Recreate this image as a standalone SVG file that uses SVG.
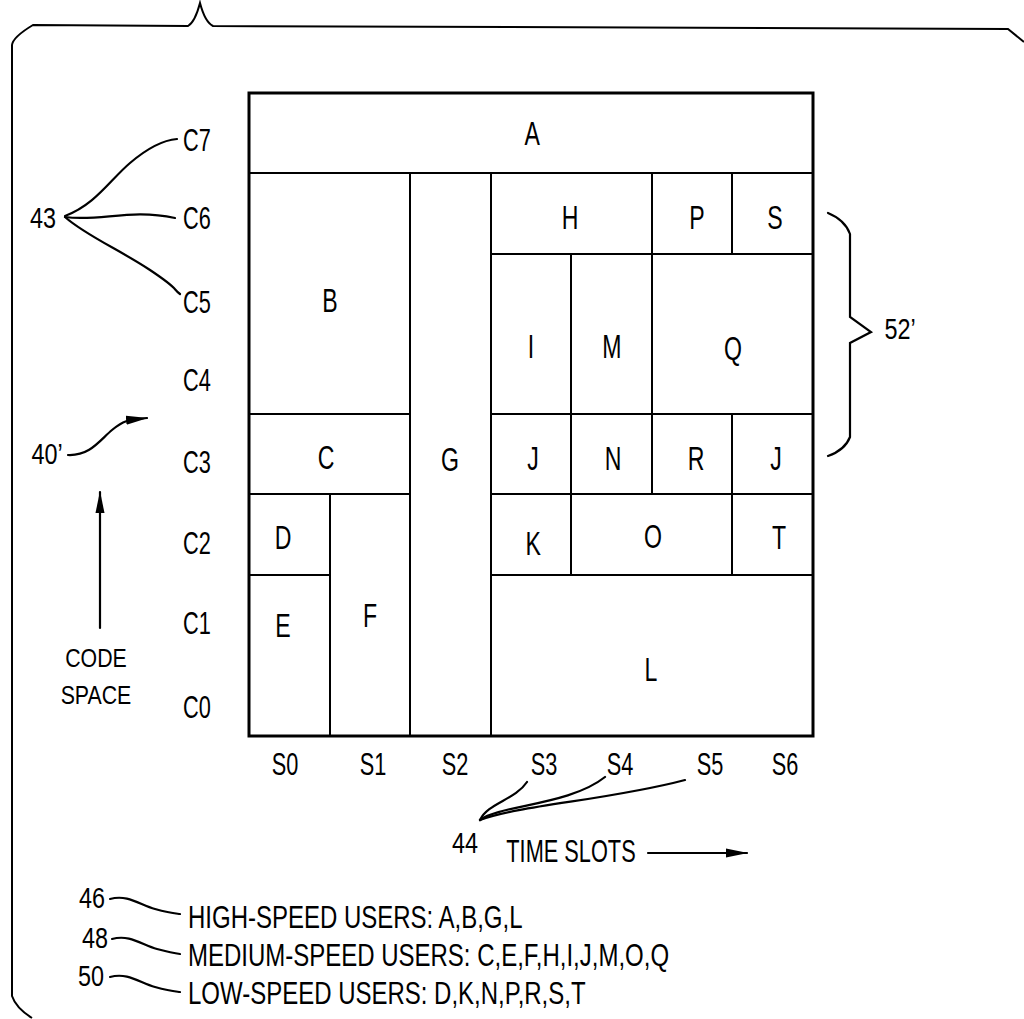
<svg xmlns="http://www.w3.org/2000/svg" width="1024" height="1019" viewBox="0 0 1024 1019">
<style>
  text { font-family: "Liberation Sans", Arial, sans-serif; fill: #000; transform-box: fill-box; transform-origin: center; }
  .cell text { font-size: 34px; text-anchor: middle; transform: scaleX(0.68); }
  .cell rect { fill: #fff; stroke: #000; stroke-width: 2; }
  .outer { fill: none; stroke: #000; stroke-width: 3; }
  .ax { font-size: 32px; text-anchor: middle; transform: scaleX(0.68); }
  .lab { font-size: 30px; text-anchor: middle; transform: scaleX(0.78); }
  .leg { font-size: 32px; text-anchor: start; transform-origin: left center; transform: scaleX(0.75); }
  .small { font-size: 26px; text-anchor: middle; transform: scaleX(0.82); }
  .ln { fill: none; stroke: #000; stroke-width: 2.2; stroke-linecap: round; }
  .frame { fill: none; stroke: #000; stroke-width: 2; }
</style>
<defs>
  <marker id="ah" viewBox="0 0 22 10" refX="21" refY="5" markerWidth="22" markerHeight="10" markerUnits="userSpaceOnUse" orient="auto">
    <path d="M0,0.5 L22,5 L0,9.5 Z" fill="#000"/>
  </marker>
</defs>
<rect width="1024" height="1019" fill="#fff"/>
<path class="frame" d="M32,1018 Q16,1008 12,996 L12,45 Q13,37 33,25 L188,26 Q195,22 200,3 Q205,22 213,26 L1008,29 L1024,42"/>

<g id="cells" class="cell">
  <g id="cell-A"><rect x="249" y="93" width="564" height="80"/><text x="532" y="145">A</text></g>
  <g id="cell-B"><rect x="249" y="173" width="161" height="241"/><text x="330" y="312">B</text></g>
  <g id="cell-C"><rect x="249" y="414" width="161" height="80"/><text x="326" y="469">C</text></g>
  <g id="cell-D"><rect x="249" y="494" width="81" height="81"/><text x="283" y="549">D</text></g>
  <g id="cell-E"><rect x="249" y="575" width="81" height="161"/><text x="283" y="637">E</text></g>
  <g id="cell-F"><rect x="330" y="494" width="80" height="242"/><text x="370" y="627">F</text></g>
  <g id="cell-G"><rect x="410" y="173" width="81" height="563"/><text x="450" y="471">G</text></g>
  <g id="cell-H"><rect x="491" y="173" width="161" height="81"/><text x="570" y="229">H</text></g>
  <g id="cell-P"><rect x="652" y="173" width="80" height="81"/><text x="697" y="229">P</text></g>
  <g id="cell-S"><rect x="732" y="173" width="81" height="81"/><text x="775" y="229">S</text></g>
  <g id="cell-I"><rect x="491" y="254" width="80" height="160"/><text x="531" y="358">I</text></g>
  <g id="cell-M"><rect x="571" y="254" width="81" height="160"/><text x="612" y="358">M</text></g>
  <g id="cell-Q"><rect x="652" y="254" width="161" height="160"/><text x="733" y="360">Q</text></g>
  <g id="cell-J1"><rect x="491" y="414" width="80" height="80"/><text x="533" y="470">J</text></g>
  <g id="cell-N"><rect x="571" y="414" width="81" height="80"/><text x="613" y="470">N</text></g>
  <g id="cell-R"><rect x="652" y="414" width="80" height="80"/><text x="696" y="470">R</text></g>
  <g id="cell-J2"><rect x="732" y="414" width="81" height="80"/><text x="776" y="470">J</text></g>
  <g id="cell-K"><rect x="491" y="494" width="80" height="81"/><text x="533" y="555">K</text></g>
  <g id="cell-O"><rect x="571" y="494" width="161" height="81"/><text x="653" y="548">O</text></g>
  <g id="cell-T"><rect x="732" y="494" width="81" height="81"/><text x="779" y="549">T</text></g>
  <g id="cell-L"><rect x="491" y="575" width="322" height="161"/><text x="651" y="681">L</text></g>
</g>
<rect class="outer" x="249" y="93" width="564" height="643"/>

<g id="code-axis">
  <text class="ax" x="197" y="151">C7</text>
  <text class="ax" x="197" y="229">C6</text>
  <text class="ax" x="197" y="313">C5</text>
  <text class="ax" x="197" y="391">C4</text>
  <text class="ax" x="197" y="473">C3</text>
  <text class="ax" x="197" y="554">C2</text>
  <text class="ax" x="197" y="634">C1</text>
  <text class="ax" x="197" y="718">C0</text>
  <text class="small" x="96" y="667">CODE</text>
  <text class="small" x="96" y="704">SPACE</text>
</g>

<g id="time-axis">
  <text class="ax" x="285" y="775">S0</text>
  <text class="ax" x="373" y="775">S1</text>
  <text class="ax" x="455" y="775">S2</text>
  <text class="ax" x="544" y="775">S3</text>
  <text class="ax" x="620" y="775">S4</text>
  <text class="ax" x="710" y="775">S5</text>
  <text class="ax" x="785" y="775">S6</text>
  <text class="ax" x="571" y="862">TIME SLOTS</text>
</g>

<g id="labels">
  <text class="lab" x="43" y="228">43</text>
  <text class="lab" x="47" y="464">40’</text>
  <text class="lab" x="900" y="339">52’</text>
  <text class="lab" x="465" y="853">44</text>
  <text class="lab" x="92" y="908">46</text>
  <text class="lab" x="95" y="948">48</text>
  <text class="lab" x="91" y="986">50</text>
  <text class="leg" x="188" y="928">HIGH-SPEED USERS: A,B,G,L</text>
  <text class="leg" x="188" y="966">MEDIUM-SPEED USERS: C,E,F,H,I,J,M,O,Q</text>
  <text class="leg" x="188" y="1004">LOW-SPEED USERS: D,K,N,P,R,S,T</text>
</g>

<g id="connectors">
  <path class="ln" d="M65,216 C95,205 110,180 130,163 S165,140 177,139"/>
  <path class="ln" d="M65,217 C100,222 130,208 175,218"/>
  <path class="ln" d="M65,217 C85,235 120,250 150,270 S172,288 180,294"/>
  <path class="ln" d="M68,455 C90,456 100,440 112,430 S128,420 147,418" marker-end="url(#ah)"/>
  <path class="ln" d="M100,628 L100,492" stroke-width="3" marker-end="url(#ah)"/>
  <path class="ln" d="M648,853 L747,853" stroke-width="3" marker-end="url(#ah)"/>
  <path class="ln" d="M480,820 C488,803 515,800 527,782"/>
  <path class="ln" d="M480,820 C500,805 570,805 605,777"/>
  <path class="ln" d="M480,820 C520,805 610,800 685,780"/>
  <path class="ln" d="M828,213 Q845,220 850,234 L850,317 L871,332 L850,343 L850,437 Q845,450 828,456"/>
  <path class="ln" d="M110,899 C128,894 140,905 155,909 S172,913 180,914"/>
  <path class="ln" d="M112,939 C130,934 142,945 157,949 S172,953 180,954"/>
  <path class="ln" d="M110,977 C128,972 140,983 155,987 S172,991 180,992"/>
</g>
</svg>
